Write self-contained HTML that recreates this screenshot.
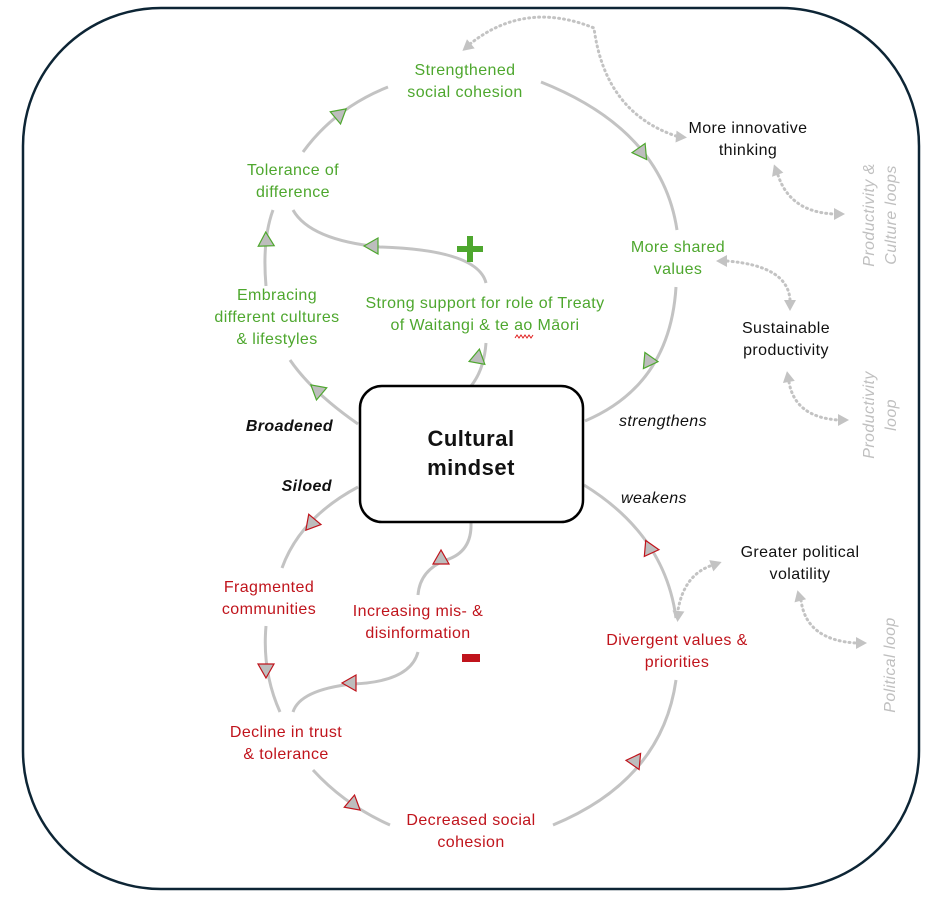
<!DOCTYPE html>
<html><head><meta charset="utf-8"><style>
html,body{margin:0;padding:0;background:#fff;}
svg{display:block;}
text{font-family:"Liberation Sans",sans-serif;font-size:16px;letter-spacing:0.4px;}
.g{fill:#4ea72e;} .r{fill:#c0141c;} .k{fill:#111;}
.ln{fill:none;stroke:#c3c3c3;stroke-width:3;}
.dt{fill:none;stroke:#c3c3c3;stroke-width:3;stroke-dasharray:1 4;stroke-linecap:round;}
.ag{fill:#bdbdbd;stroke:#4ea72e;stroke-width:1.2;}
.ar{fill:#bdbdbd;stroke:#c0141c;stroke-width:1.2;}
.ad{fill:#c3c3c3;}
.lp{fill:#bfbfbf;font-style:italic;font-size:16px;}
</style></head><body>
<svg width="942" height="906" viewBox="0 0 942 906" xmlns="http://www.w3.org/2000/svg">
<defs>
<polygon id="tri" points="8,0 -6,-8 -6,8"/>
<polygon id="dtri" points="6,0 -5,-6 -5,6"/>
</defs>
<rect x="23" y="8" width="896" height="881" rx="138" fill="none" stroke="#0d2535" stroke-width="2.5"/>

<path class="ln" d="M358,424 Q312,392 290,360"/>
<path class="ln" d="M266,286 Q262,240 273,210"/>
<path class="ln" d="M303,152 Q335,108 388,87"/>
<path class="ln" d="M541,82 Q662,130 677,230"/>
<path class="ln" d="M676,287 Q670,385 585,421"/>
<path class="ln" d="M486,343 Q484,370 471,386"/>
<path class="ln" d="M486,283 Q478,250 380,247 Q310,240 293,210"/>

<path class="ln" d="M358,487 Q300,518 282,568"/>
<path class="ln" d="M266,626 Q262,672 280,712"/>
<path class="ln" d="M313,770 Q345,805 390,825"/>
<path class="ln" d="M553,825 Q662,780 676,680"/>
<path class="ln" d="M584,485 Q665,535 676,618"/>
<path class="ln" d="M471,523 Q472,552 446,560 Q420,570 418,595"/>
<path class="ln" d="M418,652 Q410,682 352,684 Q300,690 293,712"/>

<use href="#tri" class="ag" transform="translate(317,390) rotate(-140)"/>
<use href="#tri" class="ag" transform="translate(266,240) rotate(-92)"/>
<use href="#tri" class="ag" transform="translate(340,114) rotate(-40)"/>
<use href="#tri" class="ag" transform="translate(642,153) rotate(55)"/>
<use href="#tri" class="ag" transform="translate(648,362) rotate(125)"/>
<use href="#tri" class="ag" transform="translate(478,357) rotate(-80)"/>
<use href="#tri" class="ag" transform="translate(372,246) rotate(180)"/>

<use href="#tri" class="ar" transform="translate(311,524) rotate(130)"/>
<use href="#tri" class="ar" transform="translate(266,670) rotate(90)"/>
<use href="#tri" class="ar" transform="translate(354,805) rotate(40)"/>
<use href="#tri" class="ar" transform="translate(636,760) rotate(-55)"/>
<use href="#tri" class="ar" transform="translate(651,549) rotate(5)"/>
<use href="#tri" class="ar" transform="translate(441,558) rotate(-90)"/>
<use href="#tri" class="ar" transform="translate(350,683) rotate(180)"/>

<path class="dt" d="M470,44 Q525,0 594,28 Q605,112 676,136"/>
<use href="#dtri" class="ad" transform="translate(467,47) rotate(140)"/>
<use href="#dtri" class="ad" transform="translate(681,137) rotate(5)"/>
<path class="dt" d="M778,175 Q790,212 834,214"/>
<use href="#dtri" class="ad" transform="translate(776,170) rotate(-110)"/>
<use href="#dtri" class="ad" transform="translate(839,214) rotate(0)"/>
<path class="dt" d="M727,261 Q788,266 790,300"/>
<use href="#dtri" class="ad" transform="translate(722,261) rotate(180)"/>
<use href="#dtri" class="ad" transform="translate(790,305) rotate(90)"/>
<path class="dt" d="M789,382 Q795,417 838,420"/>
<use href="#dtri" class="ad" transform="translate(788,377) rotate(-100)"/>
<use href="#dtri" class="ad" transform="translate(843,420) rotate(0)"/>
<path class="dt" d="M710,566 Q684,576 678,610"/>
<use href="#dtri" class="ad" transform="translate(716,564) rotate(-20)"/>
<use href="#dtri" class="ad" transform="translate(678,616) rotate(95)"/>
<path class="dt" d="M801,600 Q806,640 856,643"/>
<use href="#dtri" class="ad" transform="translate(799,596) rotate(-105)"/>
<use href="#dtri" class="ad" transform="translate(861,643) rotate(0)"/>

<rect x="360" y="386" width="223" height="136" rx="22" fill="#fff" stroke="#000" stroke-width="2.5"/>
<text x="471" y="446" text-anchor="middle" font-weight="bold" style="font-size:22px;letter-spacing:0.5px" class="k">Cultural</text>
<text x="471" y="475" text-anchor="middle" font-weight="bold" style="font-size:22px;letter-spacing:0.5px" class="k">mindset</text>

<g text-anchor="middle" class="g">
<text x="465" y="75">Strengthened</text><text x="465" y="97">social cohesion</text>
<text x="293" y="175">Tolerance of</text><text x="293" y="197">difference</text>
<text x="277" y="300">Embracing</text><text x="277" y="322">different cultures</text><text x="277" y="344">&amp; lifestyles</text>
<text x="485" y="308">Strong support for role of Treaty</text><text x="485" y="330">of Waitangi &amp; te ao Māori</text>
<text x="678" y="252">More shared</text><text x="678" y="274">values</text>
</g>
<path d="M515,338 l2,-3 2,3 2,-3 2,3 2,-3 2,3 2,-3 2,3 2,-3" fill="none" stroke="#e02020" stroke-width="1"/>
<rect x="467" y="236" width="6" height="26" fill="#4ea72e"/>
<rect x="457" y="246" width="26" height="6" fill="#4ea72e"/>

<g text-anchor="middle" class="r">
<text x="269" y="592">Fragmented</text><text x="269" y="614">communities</text>
<text x="418" y="616">Increasing mis- &amp;</text><text x="418" y="638">disinformation</text>
<text x="677" y="645">Divergent values &amp;</text><text x="677" y="667">priorities</text>
<text x="286" y="737">Decline in trust</text><text x="286" y="759">&amp; tolerance</text>
<text x="471" y="825">Decreased social</text><text x="471" y="847">cohesion</text>
</g>
<rect x="462" y="654" width="18" height="8" fill="#c0141c"/>

<g text-anchor="middle" class="k">
<text x="748" y="133">More innovative</text><text x="748" y="155">thinking</text>
<text x="786" y="333">Sustainable</text><text x="786" y="355">productivity</text>
<text x="800" y="557">Greater political</text><text x="800" y="579">volatility</text>
</g>
<text x="333" y="431" text-anchor="end" font-weight="bold" font-style="italic" class="k">Broadened</text>
<text x="332" y="491" text-anchor="end" font-weight="bold" font-style="italic" class="k">Siloed</text>
<text x="619" y="426" font-style="italic" class="k">strengthens</text>
<text x="621" y="503" font-style="italic" class="k">weakens</text>

<text class="lp" text-anchor="middle" transform="translate(874,215) rotate(-90)">Productivity &amp;</text>
<text class="lp" text-anchor="middle" transform="translate(896,215) rotate(-90)">Culture loops</text>
<text class="lp" text-anchor="middle" transform="translate(874,415) rotate(-90)">Productivity</text>
<text class="lp" text-anchor="middle" transform="translate(896,415) rotate(-90)">loop</text>
<text class="lp" text-anchor="middle" transform="translate(895,665) rotate(-90)">Political loop</text>
</svg>
</body></html>
